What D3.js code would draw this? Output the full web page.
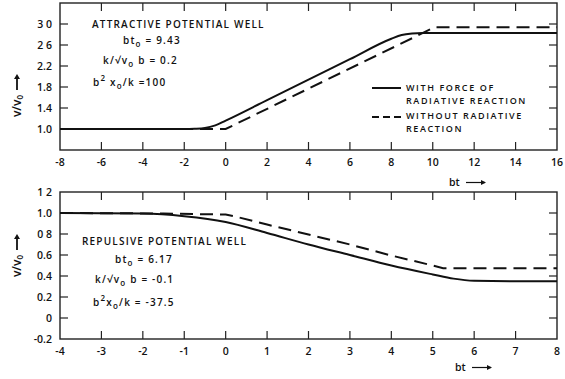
<!DOCTYPE html>
<html>
<head>
<meta charset="utf-8">
<script src="https://cdn.jsdelivr.net/npm/d3@7"></script>
<style>
  html, body { margin: 0; padding: 0; background: #fff; }
  svg text { font-family: "Open Sans", "DejaVu Sans", sans-serif; font-weight: 600; fill: #111; }
</style>
</head>
<body>
<svg id="chart" width="565" height="379"></svg>
<script>
// Attractive potential well (upper panel)
const attrWithBt   = [-8, -2, -1.5, -1, -0.5, 0, 2, 4, 6, 8, 8.5, 9, 9.5, 10, 16];
const attrWith     = [1.0, 1.0, 1.005, 1.02, 1.07, 1.16, 1.55, 1.94, 2.33, 2.72, 2.79, 2.82, 2.83, 2.83, 2.83];
const attrWithoutBt = [-8, 0, 10.1, 16];
const attrWithout   = [1.0, 1.0, 2.94, 2.94];
const attrXTicks = [-8, -6, -4, -2, 0, 2, 4, 6, 8, 10, 12, 14, 16];
const attrYTicks = [1.0, 1.4, 1.8, 2.2, 2.6, 3.0];
const attrYLabels = ["1.0", "1.4", "1.8", "2.2", "2 6", "3 0"];

// Repulsive potential well (lower panel)
const repWithBt   = [-4, -2, -1, 0, 1, 2, 3, 4, 5, 5.5, 6, 7, 8];
const repWith     = [1.0, 0.995, 0.97, 0.915, 0.81, 0.70, 0.60, 0.50, 0.415, 0.375, 0.355, 0.35, 0.35];
const repWithoutBt = [-4, -1.5, 0, 0.2, 1, 2, 3, 4, 5, 5.25, 8];
const repWithout   = [1.0, 0.995, 0.985, 0.97, 0.89, 0.795, 0.70, 0.595, 0.50, 0.475, 0.475];
const repXTicks = [-4, -3, -2, -1, 0, 1, 2, 3, 4, 5, 6, 7, 8];
const repYTicks = [-0.2, 0, 0.2, 0.4, 0.6, 0.8, 1.0, 1.2];
const repYLabels = ["-0.2", "0", "0.2", "0.4", "0.6", "0 8", "1.0", "1 2"];

const svg = d3.select("#chart");

function panel(opt) {
  const x = d3.scaleLinear().domain(opt.xDomain).range([60, 557]);
  const y = d3.scaleLinear().domain(opt.yDomain).range([opt.bottom, opt.top]);
  const g = svg.append("g");

  // frame
  g.append("rect")
    .attr("x", 60).attr("y", opt.top)
    .attr("width", 497).attr("height", opt.bottom - opt.top)
    .attr("fill", "none").attr("stroke", "#222").attr("stroke-width", 1.4);

  // inward ticks: bottom & top
  const xIn = opt.xTicks.slice(1, -1);
  g.selectAll(".xb").data(xIn).join("line")
    .attr("x1", d => x(d)).attr("x2", d => x(d))
    .attr("y1", opt.bottom).attr("y2", opt.bottom - 8)
    .attr("stroke", "#222").attr("stroke-width", 1.2);
  g.selectAll(".xt").data(xIn).join("line")
    .attr("x1", d => x(d)).attr("x2", d => x(d))
    .attr("y1", opt.top).attr("y2", opt.top + 8)
    .attr("stroke", "#222").attr("stroke-width", 1.2);
  // inward ticks: left & right
  const yIn = opt.yTicks.filter(v => v > opt.yDomain[0] && v < opt.yDomain[1]);
  g.selectAll(".yl").data(yIn).join("line")
    .attr("x1", 60).attr("x2", 68)
    .attr("y1", d => y(d)).attr("y2", d => y(d))
    .attr("stroke", "#222").attr("stroke-width", 1.2);
  g.selectAll(".yr").data(yIn).join("line")
    .attr("x1", 557).attr("x2", 549)
    .attr("y1", d => y(d)).attr("y2", d => y(d))
    .attr("stroke", "#222").attr("stroke-width", 1.2);

  // tick labels
  g.selectAll(".xlab").data(opt.xTicks).join("text")
    .attr("x", d => x(d)).attr("y", opt.bottom + 16)
    .attr("text-anchor", "middle").attr("font-size", 10.5)
    .text(d => d);
  g.selectAll(".ylab").data(opt.yTicks).join("text")
    .attr("x", 52).attr("y", d => y(d) + 4)
    .attr("text-anchor", "end").attr("font-size", 10.5)
    .text((d, i) => opt.yLabels[i]);

  // curves
  const line = d3.line().x(d => x(d[0])).y(d => y(d[1])).curve(d3.curveMonotoneX);
  g.append("path")
    .datum(opt.withBt.map((b, i) => [b, opt.withV[i]]))
    .attr("d", line).attr("fill", "none")
    .attr("stroke", "#111").attr("stroke-width", 2);
  g.append("path")
    .datum(opt.withoutBt.map((b, i) => [b, opt.withoutV[i]]))
    .attr("d", d3.line().x(d => x(d[0])).y(d => y(d[1]))).attr("fill", "none")
    .attr("stroke", "#111").attr("stroke-width", 2)
    .attr("stroke-dasharray", "13,7");

  // axis titles
  const bt = g.append("text")
    .attr("x", opt.btX).attr("y", opt.btY).attr("font-size", 10.5);
  bt.append("tspan").text("bt ");
  g.append("line")
    .attr("x1", opt.btX + 17).attr("x2", opt.btX + 36)
    .attr("y1", opt.btY - 3.5).attr("y2", opt.btY - 3.5)
    .attr("stroke", "#111").attr("stroke-width", 1.2);
  g.append("path")
    .attr("d", `M${opt.btX + 37},${opt.btY - 3.5} l-5,-2.5 l0,5 z`)
    .attr("fill", "#111");

  const vy = g.append("g").attr("transform", `translate(17,${opt.vCenter}) rotate(-90)`);
  vy.append("text").attr("x", -14).attr("y", 4)
    .attr("text-anchor", "middle").attr("font-size", 12).attr("font-weight", 800)
    .html("v/v<tspan font-size='8' dy='2'>0</tspan>");
  vy.append("line").attr("x1", 2).attr("x2", 14).attr("y1", 0).attr("y2", 0)
    .attr("stroke", "#111").attr("stroke-width", 1.8);
  vy.append("path").attr("d", "M18,0 l-5,-3 l0,6 z").attr("fill", "#111");

  return { x, y, g };
}

const upperPanel = panel({
  xDomain: [-8, 16], yDomain: [0.6, 3.4], top: 3, bottom: 150,
  xTicks: attrXTicks, yTicks: attrYTicks, yLabels: attrYLabels,
  withBt: attrWithBt, withV: attrWith, withoutBt: attrWithoutBt, withoutV: attrWithout,
  btX: 449, btY: 186, vCenter: 92
});
const lowerPanel = panel({
  xDomain: [-4, 8], yDomain: [-0.2, 1.2], top: 192, bottom: 339,
  xTicks: repXTicks, yTicks: repYTicks, yLabels: repYLabels,
  withBt: repWithBt, withV: repWith, withoutBt: repWithoutBt, withoutV: repWithout,
  btX: 455, btY: 371, vCenter: 252
});

// annotation blocks
function note(x, y, parts) {
  const t = svg.append("text").attr("x", x).attr("y", y)
    .attr("font-size", 10).attr("letter-spacing", 1.2);
  parts.forEach(p => {
    const s = t.append("tspan").text(p.t);
    if (p.sub) s.attr("font-size", 8).attr("baseline-shift", "-3");
    if (p.sup) s.attr("font-size", 8).attr("baseline-shift", "5");
  });
}

note(92, 28, [{ t: "ATTRACTIVE POTENTIAL WELL" }]);
note(123, 44, [{ t: "bt" }, { t: "o", sub: true }, { t: " = 9.43" }]);
note(103, 64, [{ t: "k/√v" }, { t: "o", sub: true }, { t: " b = 0.2" }]);
note(93, 86, [{ t: "b" }, { t: "2", sup: true }, { t: " x" }, { t: "o", sub: true }, { t: "/k =100" }]);

note(82, 245, [{ t: "REPULSIVE POTENTIAL WELL" }]);
note(115, 263, [{ t: "bt" }, { t: "o", sub: true }, { t: " = 6.17" }]);
note(95, 283, [{ t: "k/√v" }, { t: "o", sub: true }, { t: " b = -0.1" }]);
note(93, 306, [{ t: "b" }, { t: "2", sup: true }, { t: "x" }, { t: "o", sub: true }, { t: "/k = -37.5" }]);

// legend
const legend = svg.append("g");
legend.append("line").attr("x1", 372).attr("x2", 401).attr("y1", 88).attr("y2", 88)
  .attr("stroke", "#111").attr("stroke-width", 2);
legend.append("line").attr("x1", 372).attr("x2", 401).attr("y1", 117).attr("y2", 117)
  .attr("stroke", "#111").attr("stroke-width", 2).attr("stroke-dasharray", "7,4");
[["WITH FORCE OF", 91], ["RADIATIVE REACTION", 103.5], ["WITHOUT RADIATIVE", 119], ["REACTION", 131.5]]
  .forEach(([s, yy]) => {
    legend.append("text").attr("x", 406).attr("y", yy)
      .attr("font-size", 9).attr("letter-spacing", 1.6).text(s);
  });
</script>
</body>
</html>
